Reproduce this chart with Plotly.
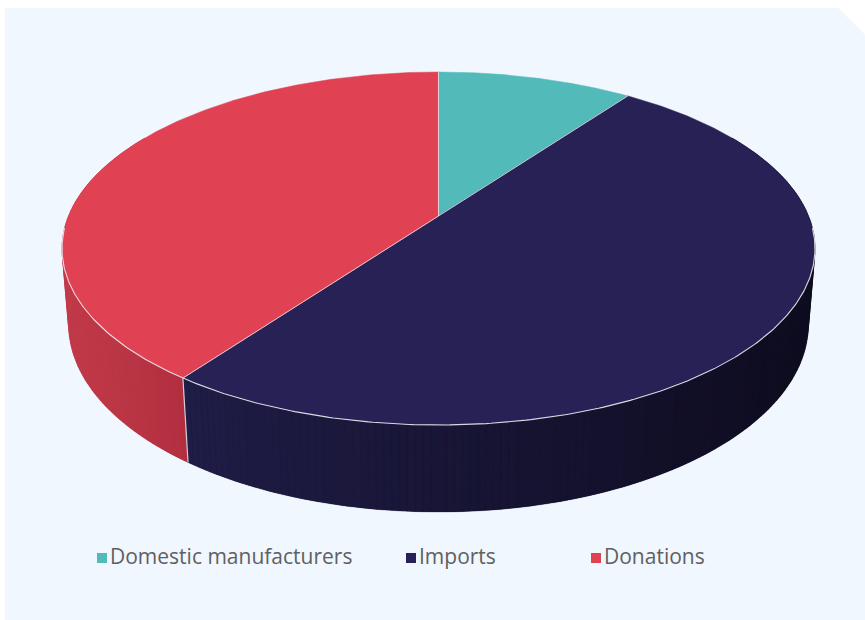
import numpy as np
import plotly.graph_objects as go

# Source of supply, share in percent
categories = ["Domestic manufacturers", "Imports", "Donations"]
shares = [10, 50, 40]

# Styling
top_colors = ["#52BBBA", "#282155", "#E04253"]
wall_left = ["#3E9897", "#1F1C46", "#C23A4A"]
wall_right = ["#2F7E7D", "#0E0C1F", "#B22F3F"]
legend_colors = ["#52BBBA", "#282155", "#E04253"]

W, H = 865, 620

# Perspective view of the disc (pixel units)
CX = 438.5            # horizontal centre
RX = 376.5            # half width of the top face outline
TOP_Y = 72            # far edge of the top face
FRONT_Y = 425         # near edge of the top face
HUB_Y = 216           # where the slices meet
FRONT_BOTTOM_Y = 512  # near edge of the bottom face
C = 0.0175            # extra depth of the bottom face (vertical convergence)

# y(v) = (B0 + B1 v) / (1 + K v) passes through the three known heights
K = (TOP_Y + FRONT_Y - 2 * HUB_Y) / (FRONT_Y - TOP_Y)
B0 = HUB_Y
B1 = TOP_Y * (1 + K) - HUB_Y
A = RX * np.sqrt(1 - K ** 2)
E = FRONT_BOTTOM_Y * (1 - K + C) - (B0 - B1)


def project(theta, level=0.0):
    """Image point of the rim at theta (deg, clockwise from the back);
    level 0 is the top face, 1 the bottom face."""
    t = np.radians(theta)
    u, v = np.sin(t), np.cos(t)
    w = 1 + K * v + C * level
    return CX + A * u / w, (B0 + B1 * v + E * level) / w


def hub(level=0.0):
    w = 1 + C * level
    return CX, (B0 + E * level) / w


def mix(c1, c2, f):
    a = [int(c1[i:i + 2], 16) for i in (1, 3, 5)]
    b = [int(c2[i:i + 2], 16) for i in (1, 3, 5)]
    return "#%02x%02x%02x" % tuple(round(a[k] + (b[k] - a[k]) * f) for k in range(3))


def wall_polygon(a0, a1, npts):
    arc = np.linspace(a0, a1, npts)
    tx, ty = project(arc)
    bx, by = project(arc[::-1], 1.0)
    return np.concatenate([tx, bx, tx[:1]]), np.concatenate([ty, by, ty[:1]]), float(np.mean(tx))


total = float(sum(shares))
bounds = np.concatenate([[0.0], np.cumsum(shares)]) / total * 360.0

fig = go.Figure()

# Cylinder wall: a flat base per slice, then thin shaded strips painted far-to-near
strips = []
for i in range(len(shares)):
    a0, a1 = max(bounds[i], 60.0), min(bounds[i + 1], 300.0)
    if a0 >= a1:
        continue
    vis0, vis1 = max(a0, 90.0), min(a1, 270.0)
    x_right = project(vis0)[0]
    x_left = project(vis1)[0]

    bxs, bys, _ = wall_polygon(a0, a1, 200)
    base = mix(wall_left[i], wall_right[i], 0.5)
    fig.add_trace(go.Scatter(x=bxs, y=bys, mode="lines", fill="toself", fillcolor=base,
                             line=dict(color=base, width=0), hoverinfo="skip",
                             showlegend=False))

    n = int(np.ceil((a1 - a0) / 1.0))
    edges = np.linspace(a0, a1, n + 1)
    for k in range(n):
        px, py, xm = wall_polygon(edges[k], edges[k + 1], 3)
        f = (xm - x_left) / (x_right - x_left) if x_right != x_left else 0.0
        col = mix(wall_left[i], wall_right[i], min(max(f, 0.0), 1.0))
        depth_key = np.cos(np.radians(0.5 * (edges[k] + edges[k + 1])))
        strips.append((depth_key, px, py, col))

for _, px, py, col in sorted(strips, key=lambda s: -s[0]):
    fig.add_trace(go.Scatter(
        x=px, y=py, mode="lines", fill="toself", fillcolor=col,
        line=dict(color=col, width=0.3), hoverinfo="skip", showlegend=False))

# Top face slices
hx, hy = hub()
for i in range(len(shares)):
    arc = np.linspace(bounds[i], bounds[i + 1], 240)
    ax, ay = project(arc)
    fig.add_trace(go.Scatter(
        x=np.concatenate([[hx], ax, [hx]]), y=np.concatenate([[hy], ay, [hy]]),
        mode="lines", fill="toself", fillcolor=top_colors[i],
        line=dict(color=top_colors[i], width=0.5), name=categories[i],
        hoverinfo="skip", showlegend=False))

# Light edges: front rim, slice separators and wall seams
rim = np.linspace(94, 266, 300)
rx_, ry_ = project(rim)
fig.add_trace(go.Scatter(x=rx_, y=ry_, mode="lines",
                         line=dict(color="rgba(235,235,240,0.9)", width=1.1),
                         hoverinfo="skip", showlegend=False))
for b in bounds[:-1]:
    px, py = project(b)
    fig.add_trace(go.Scatter(x=[hx, px], y=[hy, py], mode="lines",
                             line=dict(color="rgba(235,235,240,0.8)", width=1),
                             hoverinfo="skip", showlegend=False))
    if 90 < b < 270:
        qx, qy = project(b, 1.0)
        fig.add_trace(go.Scatter(x=[px, qx], y=[py, qy], mode="lines",
                                 line=dict(color="rgba(235,235,240,0.85)", width=1.2),
                                 hoverinfo="skip", showlegend=False))

# Legend drawn as coloured squares and labels
legend_x = [97, 406, 591]
legend_y = 558
shapes = [dict(type="path", xref="x", yref="y", layer="below",
               path="M 5,8 L 838,8 L 865,35 L 865,620 L 5,620 Z",
               fillcolor="#F0F7FE", line=dict(width=0))]
annotations = []
for i, name in enumerate(categories):
    x0 = legend_x[i]
    shapes.append(dict(type="rect", xref="x", yref="y",
                       x0=x0, x1=x0 + 10, y0=legend_y - 5, y1=legend_y + 5,
                       fillcolor=legend_colors[i], line=dict(width=0)))
    annotations.append(dict(x=x0 + 11, y=legend_y - 2, xref="x", yref="y",
                            text=name, showarrow=False, xanchor="left", yanchor="middle",
                            font=dict(family="Open Sans", size=21, color="#606060")))

fig.update_layout(
    width=W, height=H, margin=dict(l=0, r=0, t=0, b=0),
    paper_bgcolor="#FFFFFF", plot_bgcolor="rgba(0,0,0,0)",
    xaxis=dict(range=[0, W], visible=False, fixedrange=True),
    yaxis=dict(range=[H, 0], visible=False, fixedrange=True),
    shapes=shapes, annotations=annotations, showlegend=False,
)

fig.write_html("out.html")
